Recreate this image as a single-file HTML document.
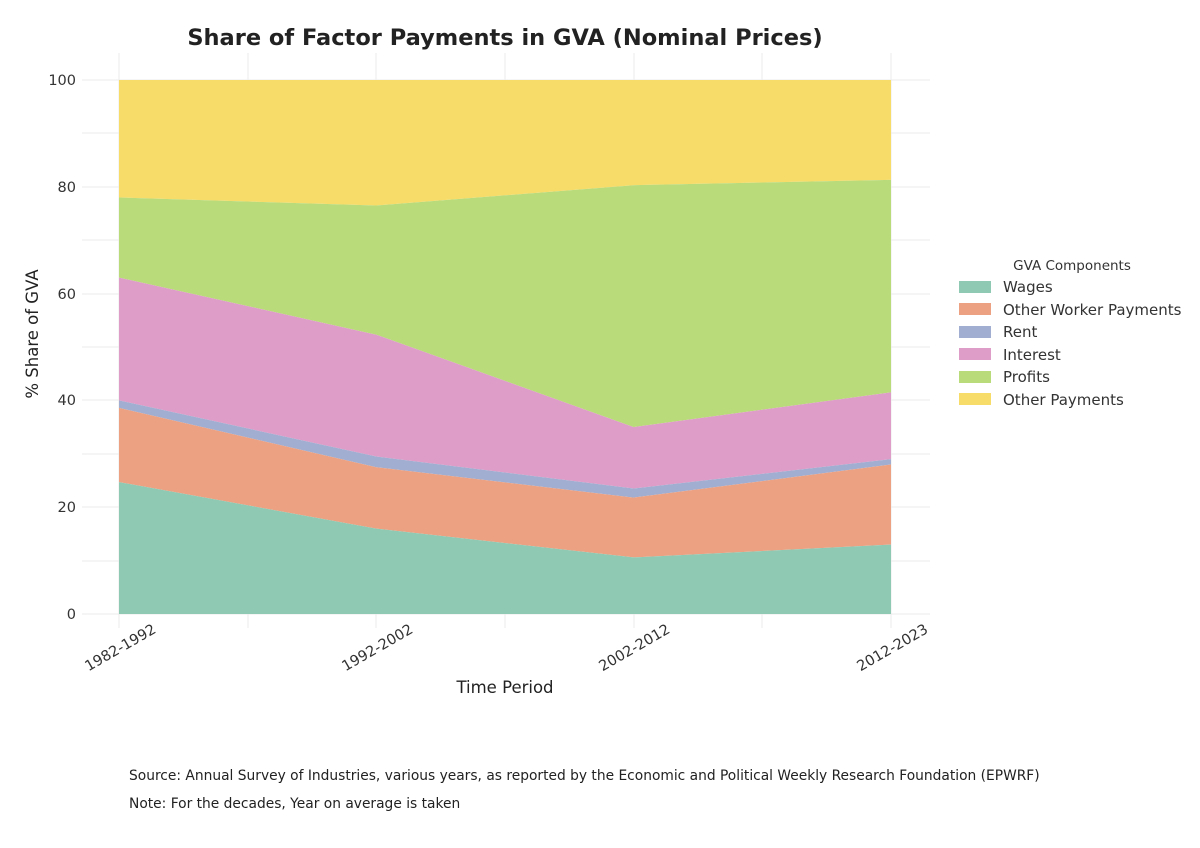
<!DOCTYPE html>
<html><head><meta charset="utf-8"><style>
body{margin:0;background:#fff;width:1200px;height:843px;overflow:hidden;font-family:"Liberation Sans","DejaVu Sans",sans-serif}
</style></head><body>
<svg width="1200" height="843" xmlns="http://www.w3.org/2000/svg" font-family="DejaVu Sans, Liberation Sans, sans-serif">
<g stroke="#ebebeb" stroke-width="1">
<line x1="119" y1="53" x2="119" y2="628"/><line x1="248" y1="53" x2="248" y2="628"/><line x1="376" y1="53" x2="376" y2="628"/><line x1="505" y1="53" x2="505" y2="628"/><line x1="634" y1="53" x2="634" y2="628"/><line x1="762" y1="53" x2="762" y2="628"/><line x1="891" y1="53" x2="891" y2="628"/>
<line x1="82" y1="80" x2="930" y2="80"/><line x1="82" y1="133" x2="930" y2="133"/><line x1="82" y1="187" x2="930" y2="187"/><line x1="82" y1="240" x2="930" y2="240"/><line x1="82" y1="294" x2="930" y2="294"/><line x1="82" y1="347" x2="930" y2="347"/><line x1="82" y1="400" x2="930" y2="400"/><line x1="82" y1="454" x2="930" y2="454"/><line x1="82" y1="507" x2="930" y2="507"/><line x1="82" y1="561" x2="930" y2="561"/><line x1="82" y1="614" x2="930" y2="614"/>
</g>
<polygon fill="#f7dc6a" points="119,80 891,80 891,179.9 633.7,185.2 376.3,205.5 119,197.5"/>
<polygon fill="#badb7a" points="119,197.5 376.3,205.5 633.7,185.2 891,179.9 891,392.4 633.7,427.1 376.3,334.7 119,277.6"/>
<polygon fill="#de9cc8" points="119,277.6 376.3,334.7 633.7,427.1 891,392.4 891,459.1 633.7,488.5 376.3,456.5 119,400.4"/>
<polygon fill="#a2aed1" points="119,400.4 376.3,456.5 633.7,488.5 891,459.1 891,464.5 633.7,497.6 376.3,467.2 119,407.9"/>
<polygon fill="#eca182" points="119,407.9 376.3,467.2 633.7,497.6 891,464.5 891,544.6 633.7,557.4 376.3,528.6 119,482.1"/>
<polygon fill="#8fc9b3" points="119,482.1 376.3,528.6 633.7,557.4 891,544.6 891,614 119,614"/>
<g font-size="14.5" fill="#333" text-anchor="end">
<text x="76" y="85">100</text><text x="76" y="192">80</text><text x="76" y="299">60</text><text x="76" y="405">40</text><text x="76" y="512">20</text><text x="76" y="619">0</text>
</g>
<g font-size="14.5" fill="#333" text-anchor="end">
<text transform="translate(157,632) rotate(-30)">1982-1992</text>
<text transform="translate(414,632) rotate(-30)">1992-2002</text>
<text transform="translate(671,632) rotate(-30)">2002-2012</text>
<text transform="translate(929,632) rotate(-30)">2012-2023</text>
</g>
<text x="505" y="693" font-size="16.5" fill="#222" text-anchor="middle">Time Period</text>
<text transform="translate(38,334) rotate(-90)" font-size="16.5" fill="#222" text-anchor="middle">% Share of GVA</text>
<text x="505" y="45" font-size="22.5" font-weight="bold" fill="#222" text-anchor="middle">Share of Factor Payments in GVA (Nominal Prices)</text>
<text x="1072" y="270" font-size="13.5" fill="#333" text-anchor="middle">GVA Components</text>
<g font-size="15" fill="#333">
<rect x="959" y="281" width="32" height="12" fill="#8fc9b3"/><text x="1003" y="292">Wages</text>
<rect x="959" y="303" width="32" height="12" fill="#eca182"/><text x="1003" y="315">Other Worker Payments</text>
<rect x="959" y="326" width="32" height="12" fill="#a2aed1"/><text x="1003" y="337">Rent</text>
<rect x="959" y="348" width="32" height="12" fill="#de9cc8"/><text x="1003" y="360">Interest</text>
<rect x="959" y="371" width="32" height="12" fill="#badb7a"/><text x="1003" y="382">Profits</text>
<rect x="959" y="393" width="32" height="12" fill="#f7dc6a"/><text x="1003" y="405">Other Payments</text>
</g>
<g font-size="13.8" fill="#222">
<text x="129" y="780">Source: Annual Survey of Industries, various years, as reported by the Economic and Political Weekly Research Foundation (EPWRF)</text>
<text x="129" y="808">Note: For the decades, Year on average is taken</text>
</g>
</svg>
</body></html>
